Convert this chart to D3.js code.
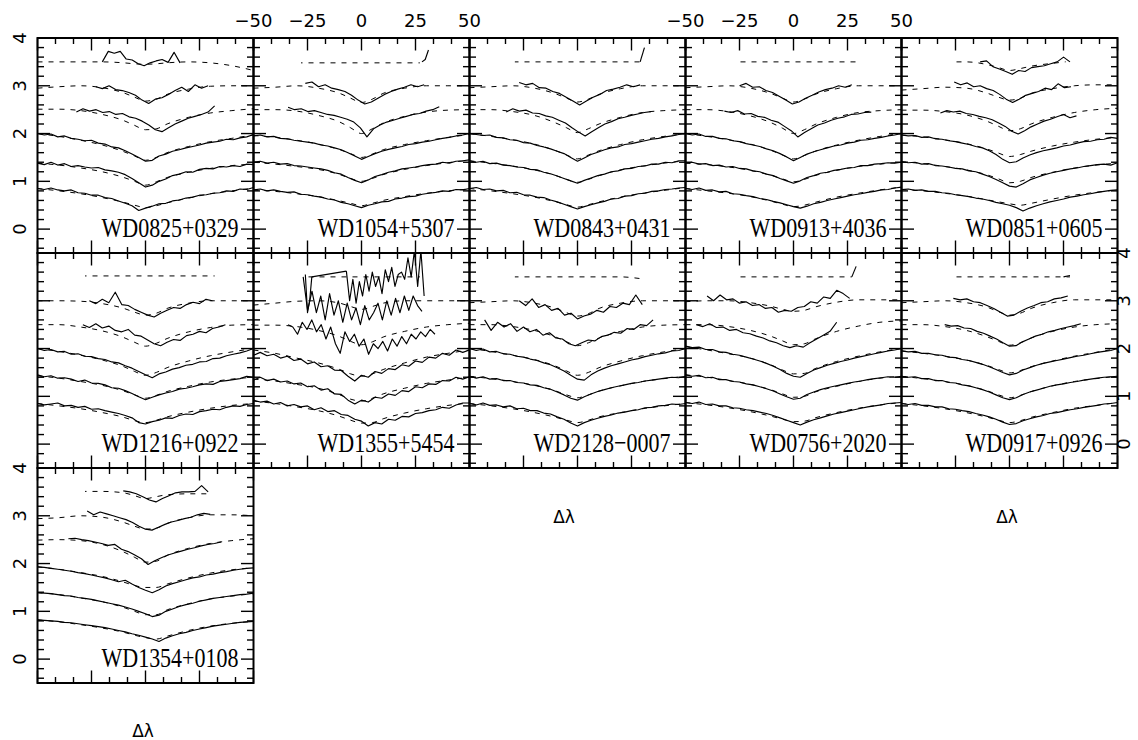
<!DOCTYPE html>
<html><head><meta charset="utf-8">
<script src="https://cdn.jsdelivr.net/npm/d3@7"></script>
<style>body{margin:0;background:#fff}svg{display:block}</style>
</head><body><svg id="c" width="1138" height="740"></svg>
<script>
// ---------- data ----------
const names = ["WD0825+0329","WD1054+5307","WD0843+0431","WD0913+4036","WD0851+0605",
               "WD1216+0922","WD1355+5454","WD2128\u22120007","WD0756+2020","WD0917+0926",
               "WD1354+0108"];
const panelCol = [0,1,2,3,4,0,1,2,3,4,0];
const panelRow = [0,0,0,0,0,1,1,1,1,1,2];
const modelGrid = [-50,-40,-30,-20,-10,-5,0,5,10,20,30,40,50];
const xMajor = [-50,-25,0,25,50];
const yMajor = [0,1,2,3,4];
const xLabelText = ["\u221250","\u221225","0","25","50"];
const yLabelText = ["0","1","2","3","4"];
const axisTitle = "\u0394\u03bb";

// observed spectra: r = [first, last] delta-lambda, v = flux values (evenly spaced)
const obs1 = [
 {r:[-50,50],v:[0.85,0.83,0.86,0.82,0.80,0.82,0.76,0.75,0.71,0.71,0.66,0.64,0.59,0.54,0.49,0.39,0.44,0.48,0.53,0.54,0.59,0.61,0.65,0.67,0.71,0.72,0.75,0.76,0.80,0.79,0.84,0.83,0.87]},
 {r:[-50,50],v:[1.38,1.35,1.40,1.34,1.37,1.31,1.33,1.30,1.28,1.29,1.24,1.22,1.19,1.14,1.06,0.97,0.88,0.92,1.00,1.05,1.12,1.15,1.20,1.19,1.25,1.27,1.26,1.31,1.30,1.33,1.31,1.36,1.35]},
 {r:[-50,50],v:[2.00,1.97,1.99,1.93,1.95,1.90,1.88,1.85,1.86,1.80,1.78,1.72,1.70,1.64,1.57,1.50,1.42,1.44,1.53,1.57,1.63,1.66,1.70,1.73,1.76,1.80,1.82,1.84,1.88,1.87,1.91,1.93,1.98]},
 {r:[-32,32],v:[2.45,2.52,2.47,2.50,2.44,2.46,2.40,2.42,2.35,2.32,2.26,2.18,2.08,2.04,2.12,2.20,2.26,2.32,2.36,2.40,2.45,2.58]},
 {r:[-23,29],v:[2.98,2.94,3.00,2.92,2.90,2.86,2.80,2.70,2.63,2.72,2.75,2.82,2.90,2.97,2.88,3.02,2.95,3.00]},
 {r:[-20,16],v:[3.50,3.72,3.68,3.72,3.56,3.54,3.46,3.42,3.48,3.52,3.55,3.49,3.70,3.48]}
];
const obs2 = [
 {r:[-50,50],v:[0.82,0.84,0.80,0.82,0.79,0.77,0.78,0.73,0.72,0.69,0.67,0.63,0.61,0.56,0.53,0.49,0.45,0.50,0.53,0.57,0.58,0.63,0.65,0.68,0.69,0.73,0.75,0.77,0.80,0.79,0.83,0.82,0.85]},
 {r:[-50,50],v:[1.40,1.42,1.38,1.40,1.36,1.37,1.33,1.32,1.30,1.28,1.26,1.23,1.18,1.15,1.08,1.02,0.97,1.03,1.10,1.14,1.19,1.22,1.26,1.28,1.30,1.33,1.35,1.36,1.40,1.38,1.42,1.43,1.45]},
 {r:[-50,50],v:[1.95,1.97,1.93,1.94,1.90,1.89,1.86,1.84,1.82,1.80,1.76,1.74,1.70,1.66,1.60,1.53,1.46,1.52,1.58,1.63,1.67,1.70,1.73,1.77,1.79,1.82,1.84,1.87,1.90,1.92,1.95,1.97,2.00]},
 {r:[-34,36],v:[2.55,2.50,2.52,2.46,2.48,2.44,2.40,2.38,2.34,2.30,2.24,2.12,1.93,2.10,2.18,2.24,2.28,2.32,2.36,2.40,2.42,2.47,2.50,2.56]},
 {r:[-26,29],v:[3.05,3.08,2.98,3.02,2.95,2.92,2.88,2.80,2.70,2.62,2.66,2.74,2.82,2.88,2.93,2.97,3.02,2.98,3.02]},
 {r:[28,31],v:[3.50,3.55,3.75]}
];
const obs3 = [
 {r:[-50,50],v:[0.85,0.87,0.83,0.84,0.80,0.81,0.76,0.77,0.72,0.71,0.67,0.66,0.61,0.57,0.52,0.47,0.42,0.47,0.51,0.55,0.58,0.63,0.64,0.69,0.70,0.74,0.75,0.79,0.80,0.83,0.84,0.86,0.87]},
 {r:[-50,50],v:[1.43,1.40,1.42,1.37,1.38,1.34,1.33,1.30,1.29,1.25,1.24,1.19,1.16,1.11,1.06,1.01,0.96,1.02,1.07,1.12,1.15,1.20,1.22,1.26,1.27,1.31,1.32,1.36,1.36,1.40,1.39,1.43,1.43]},
 {r:[-50,50],v:[2.00,1.98,1.96,1.97,1.92,1.91,1.87,1.86,1.81,1.80,1.75,1.72,1.68,1.63,1.58,1.50,1.42,1.49,1.56,1.61,1.66,1.70,1.72,1.77,1.79,1.82,1.85,1.88,1.90,1.93,1.95,1.98,2.00]},
 {r:[-33,34],v:[2.45,2.52,2.47,2.49,2.43,2.42,2.37,2.34,2.28,2.22,2.12,2.03,1.95,2.04,2.12,2.20,2.25,2.31,2.34,2.38,2.41,2.44,2.46]},
 {r:[-27,29],v:[3.07,3.02,3.05,2.96,2.95,2.88,2.84,2.76,2.68,2.60,2.68,2.76,2.82,2.90,2.93,2.97,3.02,2.98,3.02]},
 {r:[29,31],v:[3.50,3.80]}
];
const obs4 = [
 {r:[-50,50],v:[0.85,0.83,0.86,0.81,0.82,0.78,0.79,0.74,0.73,0.70,0.68,0.64,0.62,0.58,0.55,0.51,0.47,0.44,0.48,0.53,0.56,0.60,0.63,0.66,0.69,0.72,0.74,0.77,0.79,0.82,0.83,0.86,0.88]},
 {r:[-50,50],v:[1.38,1.40,1.36,1.37,1.33,1.34,1.30,1.31,1.27,1.26,1.22,1.20,1.15,1.12,1.06,1.01,0.96,1.01,1.08,1.12,1.17,1.19,1.23,1.25,1.28,1.29,1.33,1.33,1.36,1.37,1.39,1.38,1.40]},
 {r:[-50,50],v:[2.00,1.97,1.99,1.94,1.94,1.90,1.89,1.85,1.83,1.79,1.76,1.73,1.68,1.64,1.58,1.51,1.43,1.50,1.57,1.62,1.66,1.70,1.74,1.76,1.80,1.82,1.86,1.87,1.90,1.92,1.95,1.97,2.00]},
 {r:[-32,36],v:[2.47,2.44,2.48,2.41,2.42,2.36,2.34,2.28,2.24,2.15,2.06,1.93,2.02,2.10,2.18,2.22,2.28,2.32,2.35,2.40,2.41,2.44,2.45]},
 {r:[-25,27],v:[3.00,3.05,2.97,2.98,2.90,2.86,2.78,2.70,2.62,2.66,2.74,2.80,2.87,2.92,2.95,3.00,2.97,3.02]}
];
const obs5 = [
 {r:[-50,50],v:[0.83,0.84,0.81,0.82,0.79,0.79,0.76,0.75,0.72,0.70,0.68,0.65,0.63,0.60,0.56,0.53,0.50,0.45,0.38,0.44,0.49,0.53,0.57,0.60,0.63,0.67,0.69,0.72,0.74,0.77,0.79,0.81,0.82]},
 {r:[-50,50],v:[1.41,1.39,1.40,1.36,1.37,1.33,1.32,1.30,1.27,1.26,1.22,1.20,1.15,1.10,1.04,0.97,0.90,0.88,0.95,1.03,1.08,1.13,1.17,1.20,1.23,1.26,1.28,1.31,1.33,1.35,1.36,1.34,1.39]},
 {r:[-50,50],v:[1.97,1.95,1.96,1.92,1.93,1.89,1.88,1.85,1.83,1.80,1.77,1.73,1.70,1.64,1.56,1.46,1.39,1.41,1.49,1.55,1.60,1.64,1.67,1.70,1.74,1.76,1.80,1.83,1.84,1.87,1.88,1.92,1.90]},
 {r:[-32,31],v:[2.43,2.48,2.45,2.47,2.42,2.40,2.36,2.33,2.29,2.22,2.15,2.05,1.99,2.06,2.14,2.20,2.26,2.30,2.35,2.40,2.33,2.37]},
 {r:[-25.6,28.5],v:[3.08,3.02,3.06,2.98,3.00,2.94,2.90,2.82,2.72,2.65,2.72,2.80,2.84,2.88,2.95,2.92,3.04,2.96,2.98]},
 {r:[-13.6,28],v:[3.50,3.52,3.40,3.35,3.30,3.24,3.32,3.30,3.38,3.40,3.42,3.46,3.50,3.60,3.50]}
];
const obs6 = [
 {r:[-50,50],v:[0.85,0.82,0.84,0.86,0.80,0.81,0.77,0.79,0.73,0.74,0.70,0.67,0.64,0.60,0.55,0.45,0.42,0.47,0.50,0.55,0.54,0.60,0.63,0.62,0.68,0.70,0.73,0.72,0.77,0.80,0.79,0.83,0.85]},
 {r:[-50,50],v:[1.45,1.41,1.43,1.38,1.39,1.36,1.31,1.34,1.28,1.27,1.24,1.18,1.17,1.12,1.06,0.99,0.93,0.98,1.03,1.07,1.10,1.15,1.17,1.20,1.24,1.26,1.25,1.31,1.33,1.35,1.37,1.42,1.40]},
 {r:[-50,50],v:[2.00,1.96,1.98,1.93,1.94,1.88,1.89,1.84,1.83,1.79,1.77,1.72,1.70,1.64,1.59,1.52,1.45,1.39,1.47,1.51,1.57,1.60,1.65,1.67,1.72,1.73,1.79,1.80,1.85,1.88,1.91,1.95,2.00]},
 {r:[-29,37],v:[2.50,2.44,2.52,2.43,2.47,2.38,2.35,2.40,2.28,2.26,2.18,2.10,2.06,2.13,2.19,2.17,2.27,2.30,2.36,2.33,2.42,2.45,2.50]},
 {r:[-26,31],v:[3.00,2.94,3.03,2.96,3.18,2.92,2.90,2.82,2.76,2.70,2.66,2.74,2.80,2.86,2.84,2.92,2.97,2.94,3.03,3.00]}
];
const obs7 = [
 {r:[-50,50],v:[0.92,0.88,0.90,0.84,0.87,0.80,0.83,0.78,0.80,0.72,0.76,0.68,0.70,0.62,0.60,0.52,0.48,0.38,0.45,0.42,0.52,0.50,0.58,0.57,0.64,0.66,0.70,0.72,0.77,0.75,0.82,0.86,0.86]},
 {r:[-50,50],v:[1.34,1.40,1.33,1.36,1.30,1.32,1.26,1.28,1.20,1.22,1.13,1.16,1.05,1.04,0.92,0.84,0.92,0.88,0.98,0.96,1.05,1.02,1.12,1.10,1.20,1.18,1.26,1.25,1.33,1.32,1.40,1.36,1.41]},
 {r:[-50,50],v:[1.86,1.92,1.85,1.88,1.80,1.84,1.75,1.78,1.68,1.72,1.62,1.64,1.55,1.54,1.42,1.32,1.44,1.40,1.52,1.48,1.58,1.56,1.66,1.63,1.74,1.71,1.82,1.80,1.90,1.86,1.97,1.92,1.97]},
 {r:[-34,34],v:[2.50,2.45,2.30,2.55,2.40,2.60,2.35,2.50,2.20,2.45,2.10,1.90,2.35,2.15,2.30,2.05,2.20,1.88,2.10,2.00,2.15,1.95,2.20,2.05,2.25,2.10,2.30,2.20,2.35,2.25,2.40,2.30]},
 {r:[-27,28],v:[3.50,2.80,3.20,2.75,3.10,2.60,3.15,2.70,3.00,2.55,2.95,2.60,2.85,2.50,2.90,2.60,2.75,2.95,2.60,3.00,2.70,3.05,2.75,3.10,2.80,3.10,2.90,2.78]},
 {r:[-26,-23],v:[3.55,2.75,3.00,3.50]},
 {r:[-23,-7],v:[3.50,3.62]},
 {r:[-7,29],v:[3.62,3.00,3.45,2.95,3.40,3.10,3.55,3.20,3.60,3.30,3.50,3.15,3.65,3.40,3.70,3.30,3.55,3.60,3.45,3.90,3.50,4.05,3.30,4.05,3.10]}
];
const obs8 = [
 {r:[-50,50],v:[0.85,0.82,0.86,0.81,0.82,0.78,0.80,0.74,0.75,0.70,0.70,0.65,0.63,0.57,0.52,0.44,0.38,0.45,0.50,0.54,0.58,0.61,0.65,0.67,0.70,0.72,0.76,0.77,0.80,0.81,0.84,0.83,0.85]},
 {r:[-50,50],v:[1.42,1.38,1.41,1.36,1.37,1.33,1.33,1.29,1.28,1.24,1.23,1.18,1.15,1.09,1.03,0.96,0.92,0.99,1.05,1.10,1.14,1.18,1.21,1.24,1.27,1.29,1.32,1.34,1.36,1.38,1.40,1.39,1.42]},
 {r:[-50,50],v:[2.00,1.96,1.99,1.93,1.94,1.89,1.88,1.84,1.82,1.78,1.75,1.70,1.66,1.60,1.53,1.44,1.36,1.34,1.45,1.53,1.59,1.64,1.68,1.72,1.76,1.79,1.83,1.86,1.89,1.91,1.95,1.96,2.00]},
 {r:[-43,35],v:[2.60,2.38,2.55,2.45,2.52,2.36,2.45,2.35,2.40,2.28,2.33,2.22,2.20,2.10,2.06,2.12,2.18,2.16,2.25,2.28,2.34,2.32,2.42,2.40,2.50,2.48,2.60]},
 {r:[-27,30],v:[3.00,2.90,3.04,2.86,2.92,2.80,2.84,2.70,2.74,2.62,2.68,2.72,2.80,2.76,2.88,2.86,2.95,2.92,3.12,2.92]}
];
const obs9 = [
 {r:[-50,50],v:[0.87,0.85,0.88,0.83,0.84,0.80,0.80,0.76,0.75,0.72,0.70,0.67,0.64,0.60,0.55,0.50,0.45,0.40,0.46,0.51,0.55,0.59,0.63,0.66,0.69,0.72,0.75,0.78,0.80,0.82,0.85,0.86,0.87]},
 {r:[-50,50],v:[1.45,1.42,1.44,1.39,1.40,1.35,1.35,1.31,1.30,1.26,1.24,1.20,1.16,1.11,1.05,0.99,0.94,0.96,1.04,1.09,1.14,1.18,1.21,1.24,1.27,1.30,1.32,1.35,1.37,1.39,1.41,1.40,1.42]},
 {r:[-50,50],v:[2.05,2.02,2.03,1.98,1.98,1.93,1.92,1.88,1.86,1.82,1.78,1.74,1.69,1.63,1.56,1.48,1.42,1.40,1.48,1.55,1.60,1.65,1.69,1.73,1.76,1.80,1.83,1.86,1.89,1.92,1.95,1.97,2.00]},
 {r:[-45,20],v:[2.50,2.46,2.52,2.44,2.45,2.38,2.40,2.33,2.31,2.26,2.22,2.16,2.12,2.06,2.02,2.06,2.03,2.12,2.20,2.28,2.36,2.55]},
 {r:[-40,26],v:[3.10,3.00,3.12,3.02,3.04,2.95,2.98,2.90,2.92,2.84,2.86,2.76,2.80,2.78,2.86,2.88,2.98,2.95,3.08,3.05,3.22,3.15,3.05]},
 {r:[27,29],v:[3.50,3.72]}
];
const obs10 = [
 {r:[-50,50],v:[0.85,0.83,0.85,0.81,0.81,0.78,0.78,0.74,0.73,0.70,0.68,0.64,0.61,0.57,0.52,0.46,0.41,0.43,0.49,0.53,0.57,0.60,0.64,0.66,0.69,0.72,0.74,0.77,0.79,0.81,0.84,0.85,0.87]},
 {r:[-50,50],v:[1.42,1.40,1.41,1.37,1.37,1.33,1.33,1.29,1.28,1.24,1.22,1.18,1.14,1.09,1.03,0.97,0.93,0.97,1.04,1.09,1.13,1.17,1.21,1.24,1.26,1.29,1.31,1.34,1.36,1.38,1.40,1.41,1.42]},
 {r:[-50,50],v:[1.95,1.93,1.94,1.90,1.90,1.87,1.86,1.82,1.81,1.77,1.75,1.71,1.67,1.62,1.56,1.50,1.45,1.48,1.55,1.60,1.65,1.69,1.72,1.75,1.78,1.81,1.84,1.86,1.89,1.92,1.94,1.96,2.00]},
 {r:[-30,33],v:[2.50,2.47,2.48,2.43,2.42,2.36,2.32,2.26,2.20,2.12,2.05,2.06,2.14,2.20,2.26,2.30,2.35,2.38,2.42,2.45,2.48,2.52]},
 {r:[-26,27],v:[3.05,3.02,3.04,2.98,2.96,2.90,2.84,2.76,2.68,2.70,2.78,2.85,2.90,2.96,2.98,3.04,3.06,3.10]},
 {r:[25,28],v:[3.50,3.53]}
];
const obs11 = [
 {r:[-50,50],v:[0.82,0.81,0.80,0.79,0.77,0.76,0.74,0.72,0.70,0.68,0.66,0.63,0.60,0.57,0.53,0.50,0.46,0.42,0.37,0.44,0.49,0.53,0.56,0.60,0.63,0.66,0.69,0.71,0.73,0.75,0.77,0.78,0.79]},
 {r:[-50,50],v:[1.39,1.38,1.37,1.35,1.33,1.32,1.29,1.27,1.25,1.22,1.19,1.16,1.13,1.09,1.05,1.00,0.95,0.89,0.92,1.00,1.05,1.10,1.14,1.17,1.21,1.24,1.27,1.29,1.31,1.33,1.35,1.36,1.38]},
 {r:[-50,50],v:[1.93,1.92,1.90,1.88,1.86,1.84,1.81,1.79,1.76,1.73,1.70,1.66,1.62,1.65,1.57,1.50,1.44,1.39,1.45,1.53,1.58,1.62,1.66,1.70,1.72,1.76,1.78,1.81,1.83,1.86,1.88,1.90,1.91]},
 {r:[-35.7,35],v:[2.52,2.53,2.50,2.48,2.45,2.42,2.38,2.40,2.30,2.25,2.18,2.10,1.98,2.06,2.12,2.18,2.22,2.26,2.30,2.33,2.37,2.40,2.42,2.45]},
 {r:[-27,30],v:[3.10,3.02,3.08,3.04,3.00,2.96,2.92,2.86,2.78,2.72,2.70,2.76,2.82,2.87,2.90,2.94,2.97,3.02,3.05,3.03]},
 {r:[-10.3,29],v:[3.52,3.50,3.46,3.40,3.33,3.29,3.36,3.42,3.48,3.50,3.50,3.51,3.63,3.50]}
];

// model fits (dashed): values on modelGrid, drawn between r[0] and r[1]
const mod1 = [
 {r:[-50,50],v:[0.85,0.80,0.74,0.66,0.56,0.50,0.45,0.49,0.55,0.65,0.74,0.80,0.86]},
 {r:[-50,50],v:[1.38,1.34,1.28,1.20,1.08,1.00,0.92,0.99,1.08,1.19,1.27,1.33,1.36]},
 {r:[-50,50],v:[2.00,1.94,1.86,1.76,1.62,1.53,1.44,1.50,1.60,1.73,1.83,1.90,1.97]},
 {r:[-50,50],v:[2.51,2.51,2.48,2.40,2.27,2.17,2.08,2.10,2.20,2.34,2.43,2.48,2.52]},
 {r:[-50,50],v:[2.95,2.98,3.00,2.96,2.85,2.76,2.68,2.72,2.82,2.93,2.99,3.00,3.00]},
 {r:[-50,50],v:[3.50,3.50,3.50,3.50,3.48,3.46,3.45,3.46,3.48,3.50,3.48,3.42,3.32]}
];
const mod2 = [
 {r:[-50,50],v:[0.82,0.79,0.74,0.68,0.59,0.54,0.49,0.54,0.60,0.68,0.75,0.80,0.84]},
 {r:[-50,50],v:[1.40,1.36,1.31,1.25,1.14,1.06,1.00,1.06,1.14,1.25,1.33,1.39,1.44]},
 {r:[-50,50],v:[1.96,1.92,1.86,1.78,1.66,1.58,1.50,1.57,1.66,1.77,1.85,1.92,1.98]},
 {r:[-50,50],v:[2.50,2.50,2.47,2.38,2.24,2.12,2.00,2.10,2.22,2.36,2.45,2.49,2.50]},
 {r:[-50,50],v:[2.95,2.97,3.00,2.95,2.84,2.74,2.65,2.72,2.84,2.95,3.00,3.00,3.00]},
 {r:[-28,27],v:[3.48,3.48,3.48,3.48,3.48,3.48,3.48,3.48,3.48,3.48,3.48,3.48,3.48]}
];
const mod3 = [
 {r:[-50,50],v:[0.85,0.80,0.74,0.67,0.57,0.51,0.46,0.51,0.57,0.67,0.75,0.81,0.87]},
 {r:[-50,50],v:[1.43,1.38,1.32,1.24,1.12,1.04,0.98,1.04,1.12,1.24,1.32,1.38,1.43]},
 {r:[-50,50],v:[2.00,1.94,1.87,1.78,1.64,1.55,1.47,1.55,1.64,1.77,1.87,1.94,2.00]},
 {r:[-50,50],v:[2.50,2.50,2.46,2.38,2.22,2.12,2.02,2.10,2.20,2.34,2.44,2.48,2.50]},
 {r:[-50,50],v:[2.96,2.98,3.00,2.95,2.83,2.74,2.66,2.72,2.82,2.94,3.00,3.00,3.00]},
 {r:[-29,29],v:[3.50,3.50,3.50,3.50,3.50,3.50,3.50,3.50,3.50,3.50,3.50,3.50,3.50]}
];
const mod4 = [
 {r:[-50,50],v:[0.85,0.80,0.75,0.68,0.58,0.52,0.47,0.50,0.56,0.67,0.75,0.82,0.88]},
 {r:[-50,50],v:[1.38,1.35,1.30,1.23,1.12,1.05,0.99,1.04,1.12,1.23,1.31,1.36,1.40]},
 {r:[-50,50],v:[2.00,1.94,1.87,1.78,1.64,1.55,1.47,1.54,1.63,1.76,1.86,1.94,2.00]},
 {r:[-50,50],v:[2.50,2.50,2.46,2.37,2.22,2.11,2.00,2.08,2.19,2.34,2.44,2.48,2.50]},
 {r:[-50,50],v:[2.96,2.98,3.00,2.95,2.83,2.74,2.66,2.72,2.82,2.94,3.00,3.00,3.00]},
 {r:[-27,29],v:[3.50,3.50,3.50,3.50,3.50,3.50,3.50,3.50,3.50,3.50,3.50,3.50,3.50]}
];
const mod5 = [
 {r:[-50,50],v:[0.83,0.80,0.75,0.69,0.61,0.57,0.53,0.50,0.54,0.63,0.71,0.77,0.82]},
 {r:[-50,50],v:[1.41,1.37,1.31,1.24,1.13,1.05,0.97,1.00,1.08,1.19,1.28,1.34,1.38]},
 {r:[-50,50],v:[1.97,1.93,1.87,1.79,1.67,1.59,1.52,1.56,1.63,1.74,1.82,1.88,1.92]},
 {r:[-50,50],v:[2.49,2.49,2.46,2.39,2.25,2.15,2.06,2.10,2.20,2.34,2.44,2.50,2.53]},
 {r:[-50,50],v:[2.91,2.94,2.97,2.95,2.84,2.76,2.70,2.74,2.84,2.94,3.00,3.02,3.02]},
 {r:[-25.6,26],v:[3.50,3.50,3.50,3.50,3.44,3.38,3.32,3.36,3.41,3.47,3.52,3.55,3.55]}
];
const mod6 = [
 {r:[-50,50],v:[0.85,0.80,0.74,0.66,0.56,0.49,0.45,0.50,0.57,0.67,0.75,0.81,0.85]},
 {r:[-50,50],v:[1.43,1.38,1.31,1.23,1.11,1.03,0.96,1.02,1.10,1.21,1.30,1.36,1.40]},
 {r:[-50,50],v:[2.00,1.94,1.86,1.76,1.62,1.52,1.44,1.50,1.60,1.74,1.85,1.93,2.00]},
 {r:[-50,50],v:[2.50,2.50,2.45,2.37,2.23,2.13,2.05,2.11,2.21,2.35,2.44,2.49,2.50]},
 {r:[-50,50],v:[3.00,3.00,2.99,2.94,2.84,2.76,2.70,2.74,2.84,2.95,3.00,3.00,3.00]},
 {r:[-28,32],v:[3.52,3.52,3.52,3.52,3.52,3.52,3.52,3.52,3.52,3.52,3.52,3.52,3.52]}
];
const mod7 = [
 {r:[-50,50],v:[0.90,0.85,0.78,0.70,0.58,0.50,0.44,0.45,0.53,0.65,0.74,0.81,0.86]},
 {r:[-50,50],v:[1.36,1.32,1.25,1.17,1.03,0.94,0.90,0.96,1.05,1.17,1.27,1.34,1.40]},
 {r:[-50,50],v:[1.97,1.90,1.80,1.70,1.56,1.47,1.42,1.47,1.56,1.70,1.82,1.90,1.97]},
 {r:[-50,50],v:[2.49,2.49,2.46,2.38,2.25,2.15,2.08,2.14,2.24,2.36,2.45,2.50,2.53]},
 {r:[-50,50],v:[2.91,2.95,2.99,3.00,2.95,2.88,2.82,2.88,2.95,3.00,3.00,3.00,3.00]},
 {r:[-25,27],v:[3.50,3.50,3.50,3.50,3.50,3.50,3.50,3.50,3.50,3.50,3.50,3.50,3.50]}
];
const mod8 = [
 {r:[-50,50],v:[0.85,0.80,0.74,0.66,0.56,0.50,0.45,0.50,0.57,0.66,0.74,0.80,0.85]},
 {r:[-50,50],v:[1.42,1.37,1.31,1.23,1.11,1.03,0.97,1.03,1.11,1.22,1.31,1.37,1.42]},
 {r:[-50,50],v:[2.00,1.94,1.86,1.77,1.63,1.53,1.44,1.50,1.60,1.74,1.85,1.93,2.00]},
 {r:[-50,50],v:[2.50,2.50,2.46,2.38,2.24,2.14,2.06,2.12,2.22,2.36,2.45,2.49,2.50]},
 {r:[-50,50],v:[2.96,2.98,3.00,2.95,2.84,2.75,2.68,2.73,2.84,2.95,3.00,3.00,3.00]},
 {r:[-29,30],v:[3.50,3.50,3.50,3.50,3.50,3.50,3.50,3.50,3.50,3.50,3.46,3.40,3.35]}
];
const mod9 = [
 {r:[-50,50],v:[0.87,0.82,0.76,0.68,0.58,0.52,0.47,0.48,0.55,0.66,0.75,0.82,0.87]},
 {r:[-50,50],v:[1.45,1.40,1.33,1.25,1.13,1.05,0.98,1.00,1.09,1.21,1.31,1.38,1.42]},
 {r:[-50,50],v:[2.04,1.97,1.89,1.80,1.65,1.55,1.47,1.48,1.58,1.73,1.84,1.93,2.00]},
 {r:[-50,50],v:[2.50,2.50,2.46,2.38,2.25,2.16,2.08,2.10,2.20,2.36,2.47,2.55,2.58]},
 {r:[-50,50],v:[2.98,3.00,3.00,2.96,2.88,2.82,2.78,2.80,2.87,2.97,3.02,3.02,3.02]},
 {r:[-27,27],v:[3.50,3.50,3.50,3.50,3.50,3.50,3.50,3.50,3.50,3.50,3.50,3.50,3.50]}
];
const mod10 = [
 {r:[-50,50],v:[0.85,0.80,0.74,0.66,0.56,0.50,0.45,0.49,0.56,0.66,0.75,0.81,0.87]},
 {r:[-50,50],v:[1.42,1.37,1.31,1.23,1.11,1.03,0.97,1.02,1.10,1.22,1.31,1.37,1.42]},
 {r:[-50,50],v:[1.95,1.90,1.84,1.76,1.64,1.56,1.49,1.54,1.62,1.74,1.84,1.92,2.00]},
 {r:[-50,50],v:[2.50,2.50,2.46,2.38,2.24,2.15,2.07,2.12,2.22,2.36,2.45,2.50,2.52]},
 {r:[-50,50],v:[2.96,2.98,3.00,2.96,2.86,2.77,2.70,2.74,2.84,2.96,3.02,3.02,3.02]},
 {r:[-25,28],v:[3.50,3.50,3.50,3.50,3.50,3.50,3.50,3.50,3.50,3.50,3.50,3.50,3.50]}
];
const mod11 = [
 {r:[-50,50],v:[0.82,0.78,0.72,0.65,0.56,0.50,0.45,0.42,0.48,0.60,0.69,0.75,0.79]},
 {r:[-50,50],v:[1.39,1.35,1.28,1.20,1.08,1.00,0.93,0.93,1.03,1.16,1.26,1.32,1.37]},
 {r:[-50,50],v:[1.93,1.88,1.81,1.73,1.61,1.54,1.50,1.50,1.57,1.70,1.80,1.87,1.91]},
 {r:[-50,50],v:[2.49,2.50,2.48,2.40,2.24,2.13,2.03,2.05,2.17,2.32,2.42,2.48,2.52]},
 {r:[-50,50],v:[2.94,2.96,3.00,2.97,2.86,2.78,2.72,2.74,2.84,2.96,3.02,3.02,3.00]},
 {r:[-28,29],v:[3.51,3.51,3.51,3.51,3.48,3.42,3.36,3.40,3.44,3.46,3.46,3.46,3.46]}
];

const obsAll = [obs1,obs2,obs3,obs4,obs5,obs6,obs7,obs8,obs9,obs10,obs11];
const modAll = [mod1,mod2,mod3,mod4,mod5,mod6,mod7,mod8,mod9,mod10,mod11];

// ---------- layout ----------
const LEFT = 37.5, TOP = 38, PW = 216, PH = 215;
const x = d3.scaleLinear().domain([-50,50]).range([0,PW]);
const y = d3.scaleLinear().domain([-0.5,4]).range([PH,0]);
const xMinor = d3.range(0,13).map(k => -50 + k*25/3).filter((d,i) => i % 3 !== 0);
const yMinor = d3.range(-2,20).map(k => k/5).filter(d => Math.abs(d - Math.round(d)) > 1e-6);
const xTicks = xMajor.map(v => ({v, len: 12.5})).concat(xMinor.map(v => ({v, len: 6})));
const yTicks = yMajor.map(v => ({v, len: 12.5})).concat(yMinor.map(v => ({v, len: 6.5})));

const svg = d3.select("#c");
const defs = svg.append("defs");
const obsLine = d3.line().x(d => x(d[0])).y(d => y(d[1]));
const modLine = d3.line().x(d => x(d[0])).y(d => y(d[1])).curve(d3.curveMonotoneX);

names.forEach((name, i) => {
  const col = panelCol[i], row = panelRow[i];
  const g = svg.append("g").attr("transform", `translate(${LEFT + col*PW},${TOP + row*PH})`);
  const cid = "pc" + i;
  defs.append("clipPath").attr("id", cid).append("rect")
      .attr("x", 0).attr("y", 0).attr("width", PW).attr("height", PH);
  const lg = g.append("g").attr("clip-path", `url(#${cid})`);

  modAll[i].forEach((m, j) => {
    const mid = `mc${i}_${j}`;
    defs.append("clipPath").attr("id", mid).append("rect")
        .attr("x", x(m.r[0])).attr("y", -60)
        .attr("width", x(m.r[1]) - x(m.r[0])).attr("height", PH + 120);
    lg.append("g").attr("clip-path", `url(#${mid})`).append("path")
      .attr("d", modLine(modelGrid.map((gx, k) => [gx, m.v[k]])))
      .attr("fill", "none").attr("stroke", "#000")
      .attr("stroke-width", 1).attr("stroke-dasharray", "5,6");
  });

  obsAll[i].forEach(o => {
    const n = o.v.length;
    const pts = o.v.map((val, k) => [o.r[0] + k*(o.r[1]-o.r[0])/(n-1), val]);
    lg.append("path").attr("d", obsLine(pts))
      .attr("fill", "none").attr("stroke", "#000")
      .attr("stroke-width", 1.15).attr("stroke-linejoin", "round");
  });

  // inward ticks on all four sides
  const tk = g.append("g").attr("stroke", "#000").attr("stroke-width", 1.4);
  tk.selectAll("line.t").data(xTicks).join("line").attr("class","t")
    .attr("x1", d => x(d.v)).attr("x2", d => x(d.v)).attr("y1", 0).attr("y2", d => d.len);
  tk.selectAll("line.b").data(xTicks).join("line").attr("class","b")
    .attr("x1", d => x(d.v)).attr("x2", d => x(d.v)).attr("y1", PH).attr("y2", d => PH - d.len);
  tk.selectAll("line.l").data(yTicks).join("line").attr("class","l")
    .attr("y1", d => y(d.v)).attr("y2", d => y(d.v)).attr("x1", 0).attr("x2", d => d.len);
  tk.selectAll("line.r").data(yTicks).join("line").attr("class","r")
    .attr("y1", d => y(d.v)).attr("y2", d => y(d.v)).attr("x1", PW).attr("x2", d => PW - d.len);

  g.append("rect").attr("x", 0).attr("y", 0).attr("width", PW).attr("height", PH)
   .attr("fill", "none").attr("stroke", "#000").attr("stroke-width", 2);

  g.append("text")
   .attr("transform", `translate(${PW - 15},${PH - 16}) scale(1,1.25)`)
   .attr("text-anchor", "end")
   .attr("font-family", "'Liberation Serif', 'DejaVu Serif', serif")
   .attr("font-size", 22).attr("fill", "#000")
   .text(name);

  // top tick labels (row 0, columns 1 and 3)
  if (row === 0 && (col === 1 || col === 3)) {
    g.selectAll("text.xl").data(xMajor).join("text").attr("class","xl")
     .attr("x", d => x(d)).attr("y", -11.5)
     .attr("text-anchor", "middle")
     .attr("font-family", "'DejaVu Sans', sans-serif").attr("font-size", 18)
     .text((d, k) => xLabelText[k]);
  }
  // left tick labels
  if (col === 0 && (row === 0 || row === 2)) {
    g.selectAll("text.yl").data(yMajor).join("text").attr("class","yl")
     .attr("transform", d => `translate(${-12},${y(d)}) rotate(-90)`)
     .attr("text-anchor", "middle")
     .attr("font-family", "'DejaVu Sans', sans-serif").attr("font-size", 18)
     .text((d, k) => yLabelText[k]);
  }
  // right tick labels
  if (col === 4 && row === 1) {
    g.selectAll("text.yr").data(yMajor).join("text").attr("class","yr")
     .attr("transform", d => `translate(${PW + 12},${y(d)}) rotate(-90)`)
     .attr("text-anchor", "middle")
     .attr("font-family", "'DejaVu Sans', sans-serif").attr("font-size", 18)
     .text((d, k) => yLabelText[k]);
  }
});

// axis titles under the bottom panels
const titlePos = [[143, TOP + 3*PH + 54], [564, TOP + 2*PH + 55], [1007, TOP + 2*PH + 55]];
svg.selectAll("text.at").data(titlePos).join("text").attr("class","at")
  .attr("x", d => d[0]).attr("y", d => d[1])
  .attr("text-anchor", "middle")
  .attr("font-family", "'DejaVu Sans', sans-serif").attr("font-size", 17)
  .text(axisTitle);
</script>
</body></html>
